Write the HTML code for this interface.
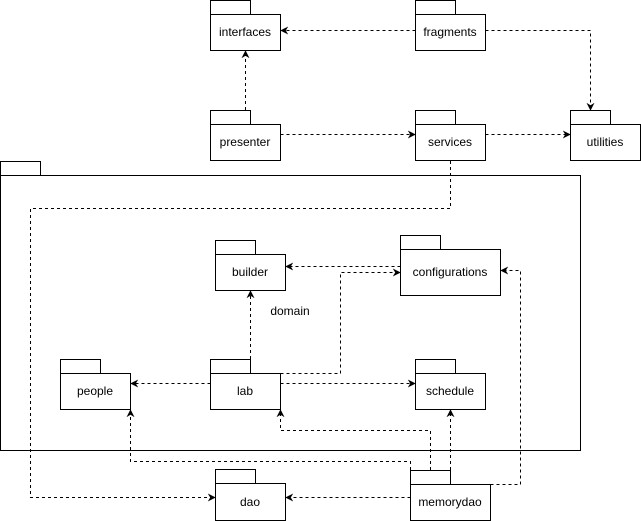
<!DOCTYPE html>
<html><head><meta charset="utf-8"><style>
html,body{margin:0;padding:0;background:#fff;}
svg{display:block;}
text{font-family:"Liberation Sans",Arial,sans-serif;font-size:12px;fill:#000;}
</style></head><body>
<svg width="641" height="521" viewBox="0 0 641 521" xmlns="http://www.w3.org/2000/svg">
<defs>
<marker id="a" viewBox="0 0 10 10" refX="9" refY="5" markerWidth="8" markerHeight="8" orient="auto" markerUnits="userSpaceOnUse">
<path d="M0,0 L10,5 L0,10 L3,5 z" fill="#000"/></marker>
</defs>
<g fill="#fff" stroke="#000" stroke-width="1">
<!-- domain -->
<rect x="0.5" y="161.5" width="40" height="14"/>
<rect x="0.5" y="175.5" width="580" height="275"/>
<!-- interfaces -->
<rect x="210.5" y="0.5" width="40" height="14"/><rect x="210.5" y="14.5" width="70" height="36"/>
<rect x="415.5" y="0.5" width="40" height="14"/><rect x="415.5" y="14.5" width="70" height="36"/>
<rect x="210.5" y="110.5" width="40" height="14"/><rect x="210.5" y="124.5" width="70" height="36"/>
<rect x="415.5" y="110.5" width="40" height="14"/><rect x="415.5" y="124.5" width="70" height="36"/>
<rect x="570.5" y="110.5" width="40" height="14"/><rect x="570.5" y="124.5" width="70" height="36"/>
<rect x="215.5" y="240.5" width="40" height="14"/><rect x="215.5" y="254.5" width="70" height="36"/>
<rect x="400.5" y="235.5" width="40" height="14"/><rect x="400.5" y="249.5" width="100" height="46"/>
<rect x="60.5" y="359.5" width="40" height="14"/><rect x="60.5" y="373.5" width="70" height="36"/>
<rect x="210.5" y="359.5" width="40" height="14"/><rect x="210.5" y="373.5" width="70" height="36"/>
<rect x="415.5" y="359.5" width="40" height="14"/><rect x="415.5" y="373.5" width="70" height="36"/>
<rect x="215.5" y="469.5" width="40" height="14"/><rect x="215.5" y="483.5" width="70" height="37"/>
<rect x="410.5" y="470.5" width="40" height="14"/><rect x="410.5" y="484.5" width="80" height="36"/>
</g>
<g fill="none" stroke="#000" stroke-width="1" stroke-dasharray="3,3" marker-end="url(#a)">
<path d="M415.5,30.5 H281"/>
<path d="M485.5,30.5 H590.5 V110"/>
<path d="M245.5,110 V51"/>
<path d="M280.5,134.5 H415"/>
<path d="M485.5,134.5 H570"/>
<path d="M450.5,161 V208.5 H30.5 V497.5 H215"/>
<path d="M400.5,266.5 H286"/>
<path d="M250.5,359 V291"/>
<path d="M280.5,373.5 H340.5 V272.5 H400"/>
<path d="M210.5,383.5 H131"/>
<path d="M280.5,383.5 H415"/>
<path d="M430.5,470 V430.5 H280.5 V410"/>
<path d="M450.5,470 V410"/>
<path d="M410.5,470 V461.5 H130.5 V410"/>
<path d="M490.5,484.5 H520.5 V270.5 H501"/>
<path d="M410.5,497.5 H286"/>
</g>
<g text-anchor="middle">
<text x="245" y="36">interfaces</text>
<text x="450" y="36">fragments</text>
<text x="245" y="146">presenter</text>
<text x="450" y="146">services</text>
<text x="605" y="146">utilities</text>
<text x="250" y="276">builder</text>
<text x="450" y="276">configurations</text>
<text x="290" y="315">domain</text>
<text x="95" y="395">people</text>
<text x="245" y="395">lab</text>
<text x="450" y="395">schedule</text>
<text x="250" y="506">dao</text>
<text x="450" y="506">memorydao</text>
</g>
</svg>
</body></html>
